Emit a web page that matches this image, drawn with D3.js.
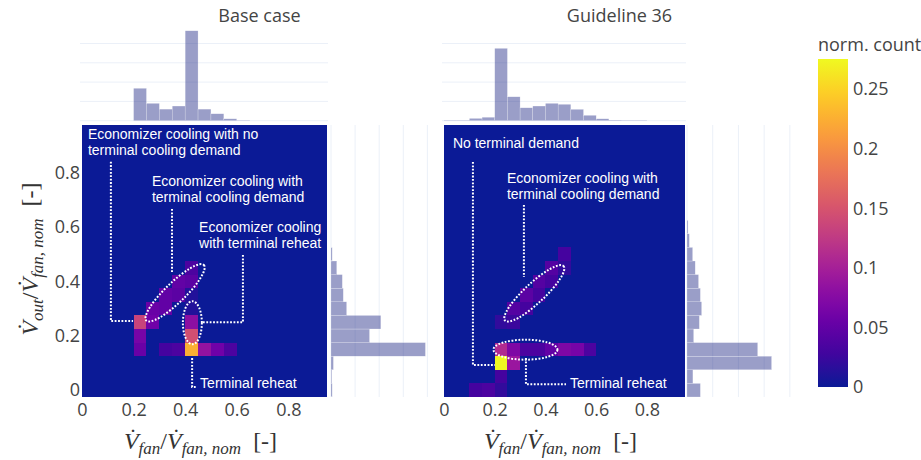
<!DOCTYPE html>
<html>
<head>
<meta charset="utf-8">
<script src="https://cdn.jsdelivr.net/npm/d3@7"></script>
<style>
  body { margin: 0; background: #fff; }
  svg { display: block; }
</style>
</head>
<body>
<svg id="chart" width="921" height="460"></svg>
<script>
// ---- data -------------------------------------------------------------
// bin width of both axes (x bins start at multiples of 0.05, y bins are centred on them)
const binW = 0.05;

// heatmap cells: [fan flow bin start, outdoor air bin centre, normalised count]
const baseCells = [
  [0.20, 0.25, 0.135], [0.20, 0.20, 0.065], [0.20, 0.15, 0.055],
  [0.25, 0.25, 0.060], [0.25, 0.30, 0.055],
  [0.30, 0.30, 0.050], [0.30, 0.35, 0.050],
  [0.35, 0.35, 0.045], [0.35, 0.40, 0.050],
  [0.40, 0.40, 0.045], [0.40, 0.45, 0.035], [0.40, 0.35, 0.012], [0.40, 0.30, 0.012],
  [0.40, 0.25, 0.080], [0.40, 0.20, 0.145], [0.40, 0.15, 0.225],
  [0.30, 0.15, 0.030], [0.35, 0.15, 0.035], [0.45, 0.15, 0.085],
  [0.50, 0.15, 0.060], [0.55, 0.15, 0.035]
];
const g36Cells = [
  [0.20, 0.10, 0.275], [0.25, 0.10, 0.090], [0.20, 0.05, 0.030],
  [0.10, 0.00, 0.030], [0.15, 0.00, 0.035], [0.20, 0.00, 0.020],
  [0.20, 0.15, 0.110], [0.25, 0.15, 0.070], [0.30, 0.15, 0.035], [0.35, 0.15, 0.035],
  [0.40, 0.15, 0.050], [0.45, 0.15, 0.070], [0.50, 0.15, 0.065], [0.55, 0.15, 0.035],
  [0.20, 0.25, 0.020], [0.25, 0.25, 0.025], [0.25, 0.30, 0.040], [0.30, 0.30, 0.030],
  [0.30, 0.35, 0.045], [0.35, 0.35, 0.030], [0.35, 0.40, 0.040], [0.40, 0.40, 0.030],
  [0.40, 0.45, 0.040], [0.45, 0.45, 0.020], [0.45, 0.50, 0.030]
];

// marginal histogram of the fan flow: [bin start, share]
const baseTop = [
  [0.20, 0.168], [0.25, 0.090], [0.30, 0.060], [0.35, 0.076], [0.40, 0.466],
  [0.45, 0.060], [0.50, 0.036], [0.55, 0.010], [0.60, 0.002]
];
const g36Top = [
  [0.00, 0.002], [0.05, 0.002], [0.10, 0.012], [0.15, 0.018], [0.20, 0.375],
  [0.25, 0.124], [0.30, 0.067], [0.35, 0.076], [0.40, 0.090], [0.45, 0.085],
  [0.50, 0.059], [0.55, 0.028], [0.60, 0.010], [0.65, 0.003], [0.70, 0.002], [0.75, 0.002]
];

// marginal histogram of the outdoor air flow: [bin centre, share]
const baseSide = [
  [0.00, 0.005], [0.05, 0.003], [0.10, 0.010], [0.15, 0.392], [0.20, 0.160],
  [0.25, 0.207], [0.30, 0.065], [0.35, 0.051], [0.40, 0.047], [0.45, 0.024], [0.50, 0.005]
];
const g36Side = [
  [0.00, 0.052], [0.05, 0.023], [0.10, 0.329], [0.15, 0.275], [0.20, 0.026],
  [0.25, 0.048], [0.30, 0.057], [0.35, 0.052], [0.40, 0.045], [0.45, 0.032],
  [0.50, 0.022], [0.55, 0.009], [0.60, 0.004]
];

// tick values and labels
const axisTicks = [0, 0.2, 0.4, 0.6, 0.8];
const axisTickLabels = ["0", "0.2", "0.4", "0.6", "0.8"];
const histGrid = [0, 0.1, 0.2, 0.3, 0.4];
const cbTicks = [0, 0.05, 0.1, 0.15, 0.2, 0.25];
const cbTickLabels = ["0", "0.05", "0.1", "0.15", "0.2", "0.25"];
const panelTitles = ["Base case", "Guideline 36"];

// ---- annotations (data coordinates of each panel) ---------------------
const baseNotes = {
  texts: [
    { x: 0.023, y: 0.923, lines: ["Economizer cooling with no", "terminal cooling demand"] },
    { x: 0.271, y: 0.751, lines: ["Economizer cooling with", "terminal cooling demand"] },
    { x: 0.454, y: 0.582, lines: ["Economizer cooling", "with terminal reheat"] },
    { x: 0.458, y: 0.008, lines: ["Terminal reheat"] }
  ],
  paths: [
    [[0.112, 0.840], [0.112, 0.254], [0.198, 0.254]],
    [[0.349, 0.666], [0.349, 0.435]],
    [[0.624, 0.497], [0.624, 0.250], [0.465, 0.250]],
    [[0.427, 0.118], [0.427, 0.012], [0.446, 0.012]]
  ],
  ellipses: [
    { x: 0.361, y: 0.358, rx: 40, ry: 10, angle: -44 },
    { x: 0.428, y: 0.248, rx: 9.5, ry: 21.5, angle: 0 }
  ]
};
const g36Notes = {
  texts: [
    { x: 0.035, y: 0.892, lines: ["No terminal demand"] },
    { x: 0.248, y: 0.761, lines: ["Economizer cooling with", "terminal cooling demand"] },
    { x: 0.497, y: 0.008, lines: ["Terminal reheat"] }
  ],
  paths: [
    [[0.114, 0.839], [0.114, 0.093], [0.201, 0.093]],
    [[0.315, 0.681], [0.315, 0.416]],
    [[0.323, 0.118], [0.323, 0.022], [0.481, 0.022]]
  ],
  ellipses: [
    { x: 0.356, y: 0.356, rx: 40, ry: 10, angle: -43 },
    { x: 0.321, y: 0.149, rx: 32, ry: 10, angle: 0 }
  ]
};

// ---- layout -----------------------------------------------------------
const panels = [
  { title: panelTitles[0], cells: baseCells, top: baseTop, side: baseSide, notes: baseNotes,
    heatX: [82, 327], sideRange: [331, 437], sideMax: 0.44 },
  { title: panelTitles[1], cells: g36Cells, top: g36Top, side: g36Side, notes: g36Notes,
    heatX: [444, 685], sideRange: [687, 795], sideMax: 0.42 }
];
const heatY = [397, 125];
const topRange = [120.7, 30];
const topMax = 0.47;
const cmax = 0.275;

const tickFont = "'Open Sans', 'DejaVu Sans', sans-serif";
const noteFont = "'Liberation Sans', Arial, sans-serif";
const mathFont = "'Liberation Serif', 'Times New Roman', serif";
const textColor = "#444";
const gridColor = "#EBF0F8";
const histFill = "#1e2785";

// plasma colour scale (zero end slightly bluer)
const plasmaStops = ["#0b1a96", "#46039f", "#7201a8", "#9c179e", "#bd3786",
                     "#d8576b", "#ed7953", "#fb9f3a", "#fdca26", "#f0f921"];
const color = d3.scaleLinear()
  .domain(plasmaStops.map((_, i) => cmax * i / (plasmaStops.length - 1)))
  .range(plasmaStops)
  .interpolate(d3.interpolateRgb)
  .clamp(true);

const svg = d3.select("#chart");
const defs = svg.append("defs");

panels.forEach((p, pi) => {
  const x = d3.scaleLinear().domain([0, 0.95]).range(p.heatX);
  const y = d3.scaleLinear().domain([-0.025, 0.975]).range(heatY);
  const yTop = d3.scaleLinear().domain([0, topMax]).range(topRange);
  const xSide = d3.scaleLinear().domain([0, p.sideMax]).range(p.sideRange);
  const g = svg.append("g");

  // title over heatmap + side histogram
  g.append("text")
    .attr("x", (p.heatX[0] + p.sideRange[1]) / 2)
    .attr("y", 21.5)
    .attr("text-anchor", "middle")
    .attr("font-family", tickFont)
    .attr("font-size", 18)
    .attr("fill", textColor)
    .text(p.title);

  // top marginal histogram
  g.append("g").selectAll("line").data(histGrid).join("line")
    .attr("x1", p.heatX[0] - 2).attr("x2", p.heatX[1] + 1)
    .attr("y1", d => yTop(d)).attr("y2", d => yTop(d))
    .attr("stroke", gridColor).attr("stroke-width", 1);
  g.append("g").selectAll("rect").data(p.top).join("rect")
    .attr("x", d => x(d[0]))
    .attr("y", d => yTop(d[1]))
    .attr("width", d => x(d[0] + binW) - x(d[0]))
    .attr("height", d => yTop(0) - yTop(d[1]))
    .attr("fill", histFill).attr("fill-opacity", 0.45)
    .attr("stroke", "#fff").attr("stroke-width", 0.4).attr("stroke-opacity", 0.6);

  // side marginal histogram
  g.append("g").selectAll("line").data(histGrid).join("line")
    .attr("x1", d => xSide(d)).attr("x2", d => xSide(d))
    .attr("y1", heatY[1]).attr("y2", heatY[0])
    .attr("stroke", gridColor).attr("stroke-width", 1);
  g.append("g").selectAll("rect").data(p.side).join("rect")
    .attr("x", xSide(0))
    .attr("y", d => y(d[0] + binW / 2))
    .attr("width", d => xSide(d[1]) - xSide(0))
    .attr("height", d => y(d[0] - binW / 2) - y(d[0] + binW / 2))
    .attr("fill", histFill).attr("fill-opacity", 0.45)
    .attr("stroke", "#fff").attr("stroke-width", 0.4).attr("stroke-opacity", 0.6);

  // heatmap background (zero count) and cells
  g.append("rect")
    .attr("x", x(0)).attr("y", y(0.975))
    .attr("width", x(0.95) - x(0)).attr("height", y(-0.025) - y(0.975))
    .attr("fill", color(0));
  g.append("g").attr("shape-rendering", "crispEdges")
    .selectAll("rect").data(p.cells).join("rect")
    .attr("x", d => x(d[0]))
    .attr("y", d => y(d[1] + binW / 2))
    .attr("width", d => x(d[0] + binW) - x(d[0]))
    .attr("height", d => y(d[1] - binW / 2) - y(d[1] + binW / 2))
    .attr("fill", d => color(d[2]));

  // annotations
  const note = g.append("g");
  const line = d3.line().x(d => x(d[0])).y(d => y(d[1]));
  note.selectAll("path").data(p.notes.paths).join("path")
    .attr("d", line)
    .attr("fill", "none").attr("stroke", "#fff").attr("stroke-width", 2)
    .attr("stroke-dasharray", "1.8 1.6");
  note.selectAll("ellipse").data(p.notes.ellipses).join("ellipse")
    .attr("cx", d => x(d.x)).attr("cy", d => y(d.y))
    .attr("rx", d => d.rx).attr("ry", d => d.ry)
    .attr("transform", d => `rotate(${d.angle} ${x(d.x)} ${y(d.y)})`)
    .attr("fill", "none").attr("stroke", "#fff").attr("stroke-width", 2)
    .attr("stroke-dasharray", "1.8 1.6");
  note.selectAll("text").data(p.notes.texts).join("text")
    .attr("x", d => x(d.x)).attr("y", d => y(d.y))
    .attr("font-family", noteFont).attr("font-size", 14).attr("fill", "#fff")
    .each(function (d) {
      d3.select(this).selectAll("tspan").data(d.lines).join("tspan")
        .attr("x", x(d.x))
        .attr("dy", (_, i) => i === 0 ? 0 : 15.8)
        .text(t => t);
    });

  // axes
  const xAxis = g.append("g")
    .attr("transform", `translate(0,${heatY[0]})`)
    .call(d3.axisBottom(x).tickValues(axisTicks)
      .tickFormat((d, i) => axisTickLabels[i]).tickSize(0).tickPadding(6));
  xAxis.select(".domain").remove();
  xAxis.selectAll("text").attr("font-family", tickFont).attr("font-size", 18).attr("fill", textColor);

  if (pi === 0) {
    const yAxis = g.append("g")
      .attr("transform", `translate(${p.heatX[0]},0)`)
      .call(d3.axisLeft(y).tickValues(axisTicks)
        .tickFormat((d, i) => axisTickLabels[i]).tickSize(0).tickPadding(2));
    yAxis.select(".domain").remove();
    yAxis.selectAll("text").attr("font-family", tickFont).attr("font-size", 18).attr("fill", textColor);
  }

  // x axis title: V̇_fan / V̇_fan,nom [-]
  const xt = g.append("text")
    .attr("x", (p.heatX[0] + p.heatX[1]) / 2 - 4)
    .attr("y", 449)
    .attr("text-anchor", "middle")
    .attr("font-family", mathFont).attr("font-size", 24).attr("fill", "#333");
  xt.append("tspan").attr("font-style", "italic").text("V\u0307");
  xt.append("tspan").attr("font-style", "italic").attr("font-size", 17).attr("dy", 5).text("fan");
  xt.append("tspan").attr("dy", -5).text("/");
  xt.append("tspan").attr("font-style", "italic").text("V\u0307");
  xt.append("tspan").attr("font-style", "italic").attr("font-size", 17).attr("dy", 5).text("fan, nom");
  xt.append("tspan").attr("dy", -5).text("\u2002[-]");
});

// y axis title: V̇_out / V̇_fan,nom [-]
const yt = svg.append("text")
  .attr("transform", `translate(38,259) rotate(-90)`)
  .attr("text-anchor", "middle")
  .attr("font-family", mathFont).attr("font-size", 24).attr("fill", "#333");
yt.append("tspan").attr("font-style", "italic").text("V\u0307");
yt.append("tspan").attr("font-style", "italic").attr("font-size", 17).attr("dy", 5).text("out");
yt.append("tspan").attr("dy", -5).text("/");
yt.append("tspan").attr("font-style", "italic").text("V\u0307");
yt.append("tspan").attr("font-style", "italic").attr("font-size", 17).attr("dy", 5).text("fan, nom");
yt.append("tspan").attr("dy", -5).text("\u2002[-]");

// colour bar
const cb = d3.scaleLinear().domain([0, cmax]).range([387, 59]);
const grad = defs.append("linearGradient").attr("id", "cbGrad")
  .attr("x1", 0).attr("y1", 1).attr("x2", 0).attr("y2", 0);
grad.selectAll("stop").data(d3.range(0, 1.0001, 0.05)).join("stop")
  .attr("offset", d => d)
  .attr("stop-color", d => color(d * cmax));
svg.append("rect")
  .attr("x", 818).attr("y", cb(cmax))
  .attr("width", 30).attr("height", cb(0) - cb(cmax))
  .attr("fill", "url(#cbGrad)");
svg.append("g").selectAll("text").data(cbTicks).join("text")
  .attr("x", 853).attr("y", d => cb(d)).attr("dy", "0.36em")
  .attr("font-family", tickFont).attr("font-size", 18).attr("fill", textColor)
  .text((d, i) => cbTickLabels[i]);
svg.append("text")
  .attr("x", 818).attr("y", 51)
  .attr("font-family", tickFont).attr("font-size", 18).attr("fill", textColor)
  .text("norm. count");
</script>
</body>
</html>
